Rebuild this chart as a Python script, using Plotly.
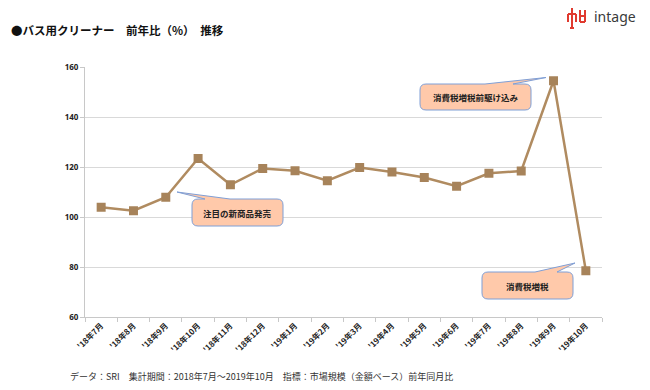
import plotly.graph_objects as go

months = ["'18年7月", "'18年8月", "'18年9月", "'18年10月", "'18年11月", "'18年12月",
          "'19年1月", "'19年2月", "'19年3月", "'19年4月", "'19年5月", "'19年6月",
          "'19年7月", "'19年8月", "'19年9月", "'19年10月"]
yoy = [103.9, 102.5, 107.9, 123.4, 112.9, 119.4, 118.5, 114.5, 119.8, 118.0, 115.8,
       112.3, 117.5, 118.4, 154.5, 78.5]
y_ticks = [60, 80, 100, 120, 140, 160]
callout_texts = ["注目の新商品発売", "消費税増税前駆け込み", "消費税増税"]

OFF = 8  # page body margin
W, H = 650 - 2 * OFF, 390 - 2 * OFF
# plot area in screen pixels: x 85..602, y 67..317
SX0, SX1, SY0, SY1 = 85, 602, 67, 317
L, T = SX0 - OFF, SY0 - OFF
R, B = W - (SX1 - OFF), H - (SY1 - OFF)
PW, PH = SX1 - SX0, SY1 - SY0


def px(x):
    return (x - SX0) / PW


def py(y):
    return (SY1 - y) / PH


def rounded_box(x0, y0, x1, y1, r, tail):
    bl, br, tx, ty = tail
    d = f"M {px(x0 + r)},{py(y0)} "
    d += f"L {px(bl)},{py(y0)} L {px(tx)},{py(ty)} L {px(br)},{py(y0)} "
    d += f"L {px(x1 - r)},{py(y0)} Q {px(x1)},{py(y0)} {px(x1)},{py(y0 + r)} "
    d += f"L {px(x1)},{py(y1 - r)} Q {px(x1)},{py(y1)} {px(x1 - r)},{py(y1)} "
    d += f"L {px(x0 + r)},{py(y1)} Q {px(x0)},{py(y1)} {px(x0)},{py(y1 - r)} "
    d += f"L {px(x0)},{py(y0 + r)} Q {px(x0)},{py(y0)} {px(x0 + r)},{py(y0)} Z"
    return dict(type="path", xref="paper", yref="paper", path=d,
                fillcolor="#FFC9AA", line=dict(color="#7F9FD6", width=1), layer="above")


fig = go.Figure()
fig.add_trace(go.Scatter(
    x=months, y=yoy, mode="lines+markers",
    line=dict(color="#B08B60", width=2.5),
    marker=dict(symbol="square", size=9, color="#A7835A"),
    hoverinfo="x+y", showlegend=False,
))

boxes = [
    (192, 199, 283, 226, (205, 230, 177, 192)),
    (420, 84, 531, 110, (485, 513, 546, 77.5)),
    (482, 272, 573, 299, (535, 557, 575, 263)),
]
shapes = []
annotations = []
for (x0, y0, x1, y1, tail), txt in zip(boxes, callout_texts):
    shapes.append(rounded_box(x0, y0, x1, y1, 6, tail))
    annotations.append(dict(xref="paper", yref="paper", x=px((x0 + x1) / 2), y=py((y0 + y1) / 2),
                            text=txt, showarrow=False, xanchor="center", yanchor="middle",
                            font=dict(size=8.5, color="#222", family="Noto Sans CJK JP", weight="bold")))

# title
annotations.append(dict(xref="paper", yref="paper", x=px(9), y=py(30), xanchor="left", yanchor="middle",
                        text="●バス用クリーナー　前年比（%）　推移", showarrow=False,
                        font=dict(size=11.5, color="#111", family="Noto Sans CJK JP", weight="bold")))
# footer
annotations.append(dict(xref="paper", yref="paper", x=px(68), y=py(376), xanchor="left", yanchor="middle",
                        text="データ：SRI　集計期間：2018年7月～2019年10月　指標：市場規模（金額ベース）前年同月比",
                        showarrow=False,
                        font=dict(size=9, color="#333", family="Noto Sans CJK JP")))
# logo text
annotations.append(dict(xref="paper", yref="paper", x=px(638), y=py(16), xanchor="right", yanchor="middle",
                        text="intage", showarrow=False,
                        font=dict(size=14, color="#3a3a3a", family="Noto Sans")))
# logo glyph (simple red figure)
red = "#E03A2F"
for (a, b, c, d) in [(572, 8, 572, 28), (568, 14, 576, 14), (568, 14, 568, 22), (576, 14, 576, 22),
                     (580, 10, 580, 22), (585, 10, 585, 22), (580, 22, 585, 22), (580, 16, 585, 16),
                     (570, 28, 574, 28)]:
    shapes.append(dict(type="line", xref="paper", yref="paper", x0=px(a), y0=py(b), x1=px(c), y1=py(d),
                       line=dict(color=red, width=2)))

fig.update_layout(
    width=W, height=H,
    margin=dict(l=L, r=R, t=T, b=B),
    paper_bgcolor="white", plot_bgcolor="white",
    shapes=shapes, annotations=annotations,
    xaxis=dict(
        type="category", tickangle=-45, tickson="boundaries",
        ticks="outside", ticklen=4, tickcolor="#C8C8C8",
        showline=True, linecolor="#C8C8C8", linewidth=1,
        showgrid=False, zeroline=False,
        tickfont=dict(size=8, color="#222", family="Noto Sans CJK JP", weight="bold"),
        range=[-0.5, len(months) - 0.5],
    ),
    yaxis=dict(
        range=[60, 160], tickvals=y_ticks,
        ticks="outside", ticklen=4, tickcolor="#C8C8C8",
        showline=True, linecolor="#C8C8C8", linewidth=1,
        showgrid=True, gridcolor="#D9D9D9", gridwidth=1, zeroline=False,
        tickfont=dict(size=8, color="#222", family="Noto Sans", weight="bold"),
    ),
)

fig.write_html("out.html")
